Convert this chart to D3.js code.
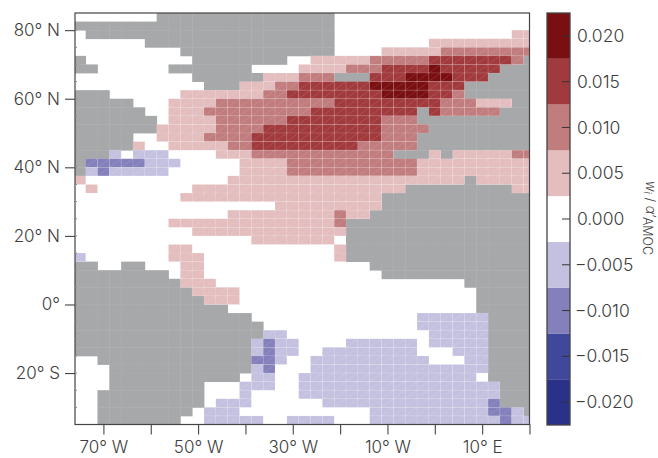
<!DOCTYPE html>
<html>
<head>
<meta charset="utf-8">
<script src="https://d3js.org/d3.v7.min.js"></script>
<style>
    body { margin: 0; background: #fff; }
    text { font-family: Inter, Lato, sans-serif; font-weight: 300; fill: #3d3d3d; }
</style>
</head>
<body>
<svg id="chart" width="658" height="458"></svg>
<script>
// one string per 2.5 degree row, north to south, one char per 2.5 degree column
// # land, . blank, 1-4 positive bins, a-d negative bins
const cellRows = [
    ".......###############.................",
    "######################.................",
    ".#####################...............11",
    "......################........111111111",
    ".........#############....1111122222222",
    "#.........########..111112222233333332#",
    "##......#######....11112223333433333###",
    "..........######111222###3334444333####",
    "...........###1112233333344444333######",
    "###......111111122333333334444332######",
    "#####...11112222222222333333333222111##",
    "######..111222222222333333333#322222###",
    "#######.111122222233333333222##########",
    "#######11111222233333333332222#########",
    "#####..1111222233333333333222##########",
    "#####1..111112233333333322222##########",
    "###a.aaa....111222222222222###1#1111122",
    "#bbbbbaaa.....1111222222222221111111111",
    "#abaaaaa......1111222222222221111111111",
    "1............11111111111111111111#11111",
    ".1........111111111111111111#########11",
    ".........11111111111111111#############",
    ".................111111111#############",
    ".............111111111211##############",
    "........111111111111112################",
    "..........1111111111111################",
    "...............1111111.################",
    "........11............1################",
    "a.......111...........1################",
    "##..##...11..............##############",
    "########.11...............#############",
    "#########111.....................######",
    "##########1111....................#####",
    "###########111....................#####",
    "#############.....................#####",
    "###############..............aaaaaa####",
    "################.............aaaaaa####",
    "################aa............aaaaa####",
    "###############abaa....aaaaaa.aaaaa####",
    "###############abaa..aaaaaaaa...aaa####",
    "..#############bba..aaaaaaaaaa...aa####",
    "...############ab...aaaaaaaaaaaaaaa####",
    "...###########.aa..aaaaaaaaaaaaaaa.####",
    "...########...aaa..aaaaaaaaaaaaaaaaa###",
    "..#########...a....aaaaaaaaaaaaaaaaa###",
    "..#########.aaa......aaaaaaaaaaaaaab###",
    "..########.aaa...........aaaaaaaaaabba#",
    "..#######..aaaaa..aaaa...aaaaaaaaaaabaa"
];

const codeValues = { "1": 0.005, "2": 0.01, "3": 0.015, "4": 0.02, "a": -0.005, "b": -0.01, "c": -0.015, "d": -0.02 };

const cellSize = 2.5;
const firstLonEdge = -76.25;
const lonDomain = [-76, 20];
const latDomain = [-35, 85];

const binEdges = [-0.0225, -0.0175, -0.0125, -0.0075, -0.0025, 0.0025, 0.0075, 0.0125, 0.0175, 0.0225];
const binColors = ["#2a3188", "#40489c", "#8480bc", "#c3c1df", "#ffffff", "#e4bdbe", "#c17c7e", "#a13a3d", "#7a0f12"];
const landColor = "#a7a8aa";
const inkColor = "#444";

const latTicks = [80, 60, 40, 20, 0, -20];
const latMinorTicks = d3.range(-30, 85, 5);
const lonTicks = [-70, -60, -50, -40, -30, -20, -10, 0, 10, 20];
const lonLabels = { "-70": "70° W", "-50": "50° W", "-30": "30° W", "-10": "10° W", "10": "10° E" };
const barTicks = [0.02, 0.015, 0.01, 0.005, 0, -0.005, -0.01, -0.015, -0.02];

const svg = d3.select("#chart");

const x = d3.scaleLinear().domain(lonDomain).range([75, 529.5]);
const y = d3.scaleLinear().domain(latDomain).range([424.5, 13]);
const barY = d3.scaleLinear().domain([-0.0225, 0.0225]).range([425, 13]);
const color = d3.scaleThreshold().domain(binEdges.slice(1, -1)).range(binColors);

function latLabel(d) {
    if (d === 0) return "0°";
    return Math.abs(d) + (d > 0 ? "° N" : "° S");
}

svg.append("clipPath").attr("id", "plotClip")
    .append("rect")
    .attr("x", x.range()[0]).attr("y", y.range()[1])
    .attr("width", x.range()[1] - x.range()[0])
    .attr("height", y.range()[0] - y.range()[1]);

// flatten the rows into cells
const cells = [];
cellRows.forEach((row, r) => {
    row.split("").forEach((code, c) => {
        if (code === ".") return;
        cells.push({
            code: code,
            west: firstLonEdge + c * cellSize,
            north: latDomain[1] - r * cellSize
        });
    });
});
const landCells = cells.filter(d => d.code === "#");
const dataCells = cells.filter(d => d.code !== "#");

const plot = svg.append("g").attr("clip-path", "url(#plotClip)");

plot.selectAll(".land").data(landCells).enter().append("rect")
    .attr("class", "land")
    .attr("x", d => x(d.west))
    .attr("y", d => y(d.north))
    .attr("width", d => x(d.west + cellSize) - x(d.west) + 0.4)
    .attr("height", d => y(d.north - cellSize) - y(d.north) + 0.4)
    .attr("fill", landColor);

// coloured cells, with the pale seams and diagonals of the triangulated mesh
plot.selectAll(".cell").data(dataCells).enter().append("rect")
    .attr("class", "cell")
    .attr("x", d => x(d.west))
    .attr("y", d => y(d.north))
    .attr("width", d => x(d.west + cellSize) - x(d.west))
    .attr("height", d => y(d.north - cellSize) - y(d.north))
    .attr("fill", d => color(codeValues[d.code]))
    .attr("stroke", "#fff")
    .attr("stroke-opacity", 0.12)
    .attr("stroke-width", 0.8);

plot.selectAll(".seam").data(dataCells).enter().append("line")
    .attr("class", "seam")
    .attr("x1", d => x(d.west))
    .attr("y1", d => y(d.north - cellSize))
    .attr("x2", d => x(d.west + cellSize))
    .attr("y2", d => y(d.north))
    .attr("stroke", "#fff")
    .attr("stroke-opacity", 0.3)
    .attr("stroke-width", 0.6)
    .attr("stroke-dasharray", "1.5 1");

// frame
svg.append("rect")
    .attr("x", x.range()[0]).attr("y", y.range()[1])
    .attr("width", x.range()[1] - x.range()[0])
    .attr("height", y.range()[0] - y.range()[1])
    .attr("fill", "none")
    .attr("stroke", inkColor)
    .attr("stroke-width", 1.2);

// inner minor ticks on the left spine
svg.selectAll(".minor").data(latMinorTicks).enter().append("line")
    .attr("class", "minor")
    .attr("x1", x.range()[0]).attr("x2", x.range()[0] + 2)
    .attr("y1", d => y(d)).attr("y2", d => y(d))
    .attr("stroke", "#888").attr("stroke-width", 1);

const leftAxis = d3.axisLeft(y).tickValues(latTicks).tickFormat(latLabel).tickSize(10).tickPadding(5);
const gLeft = svg.append("g").attr("transform", `translate(${x.range()[0]},0)`).call(leftAxis);

const bottomAxis = d3.axisBottom(x).tickValues(lonTicks).tickFormat(d => lonLabels[d] || "").tickSize(10).tickPadding(6);
const gBottom = svg.append("g").attr("transform", `translate(0,${y.range()[0]})`).call(bottomAxis);

[gLeft, gBottom].forEach(g => {
    g.attr("font-family", null);
    g.select(".domain").remove();
    g.selectAll("line").attr("stroke", inkColor).attr("stroke-width", 1.1);
    g.selectAll("text").style("font-size", "17px");
});

// colour bar
const barX = 547;
const barW = 23;
const bins = d3.range(binColors.length).map(i => ({ lo: binEdges[i], hi: binEdges[i + 1], fill: binColors[i] }));

svg.selectAll(".bin").data(bins).enter().append("rect")
    .attr("class", "bin")
    .attr("x", barX)
    .attr("width", barW)
    .attr("y", d => barY(d.hi))
    .attr("height", d => barY(d.lo) - barY(d.hi))
    .attr("fill", d => d.fill);

svg.selectAll(".barTick").data(barTicks).enter().append("line")
    .attr("class", "barTick")
    .attr("x1", barX + 15).attr("x2", barX + barW)
    .attr("y1", d => barY(d)).attr("y2", d => barY(d))
    .attr("stroke", "#333").attr("stroke-width", 1);

svg.append("rect")
    .attr("x", barX).attr("y", barY.range()[1])
    .attr("width", barW).attr("height", barY.range()[0] - barY.range()[1])
    .attr("fill", "none")
    .attr("stroke", inkColor)
    .attr("stroke-width", 1.3);

svg.selectAll(".barLabel").data(barTicks).enter().append("text")
    .attr("class", "barLabel")
    .attr("x", d => d < 0 ? 575 : 577)
    .attr("y", d => barY(d))
    .attr("dy", "0.35em")
    .style("font-size", "17.5px")
    .text(d => d3.format(".3f")(d).replace("-", "\u2212"));

// colour bar title, rotated, subscripts fall to the left
const title = svg.append("text")
    .attr("transform", "translate(646,181) rotate(90)")
    .style("font-size", "13px");
title.append("tspan").style("font-style", "italic").text("w");
title.append("tspan").attr("dy", 2.5).style("font-size", "10px").style("font-style", "italic").text("i");
title.append("tspan").attr("dy", -2.5).text(" / ");
title.append("tspan").style("font-style", "italic").text("\u03b1\u2032");
title.append("tspan").attr("dy", 3).style("font-size", "12.5px").text("AMOC");
</script>
</body>
</html>
